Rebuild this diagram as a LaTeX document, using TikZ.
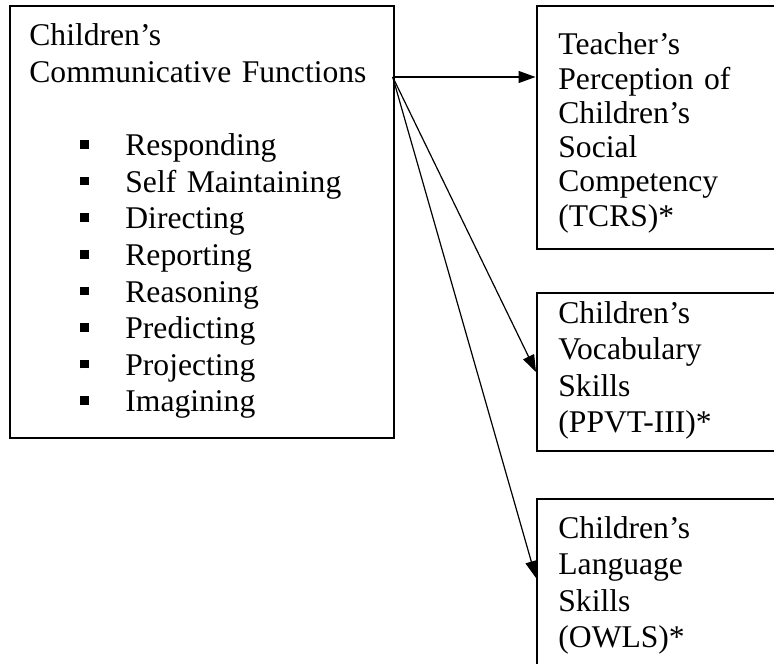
\documentclass[tikz,border=0pt]{standalone}
\usepackage{fontspec}
\setmainfont{Liberation Serif}
\usetikzlibrary{arrows.meta}

\newcommand{\blt}[1]{\hspace*{25.5pt}\rule[3.5pt]{4.3pt}{4.3pt}\hspace*{18.2pt}#1}

\begin{document}
\begin{tikzpicture}[
  x=0.5pt, y=-0.5pt,
  >={Triangle[length=8.5pt,width=6pt]},
  blk/.style={draw, line width=1pt, inner sep=0pt, anchor=north west},
  txt/.style={anchor=base west, inner sep=0pt, align=left, text width=100pt,
    font=\fontsize{15.8}{18.3}\selectfont},
  lnk/.style={->, line width=0.6pt},
]

\useasboundingbox (0,0) rectangle (774,663);
\clip (0,0) rectangle (774,663);

\node [blk, minimum width=191.85pt, minimum height=216pt] (funcs) at (9,5) {};
\node [blk, minimum width=130pt, minimum height=121.5pt] (percep) at (535.5,5) {};
\node [blk, minimum width=130pt, minimum height=79pt] (vocab) at (536,292) {};
\node [blk, minimum width=130pt, minimum height=100pt] (lang) at (536,498) {};

\node [txt, text width=180pt] (funcs-t) at (29,46) {Children's\\
  Communicative Functions\\[18.3pt]
  \blt{Responding}\\ \blt{Self Maintaining}\\ \blt{Directing}\\
  \blt{Reporting}\\ \blt{Reasoning}\\ \blt{Predicting}\\
  \blt{Projecting}\\ \blt{Imagining}};
\node [txt, font=\fontsize{15.8}{17.1}\selectfont] (percep-t) at (558,55)
  {Teacher's\\ Perception of\\ Children's\\ Social\\ Competency\\ (TCRS)*};
\node [txt] (vocab-t) at (558,323) {Children's\\ Vocabulary\\ Skills\\ (PPVT-III)*};
\node [txt] (lang-t) at (558,538) {Children's\\ Language\\ Skills\\ (OWLS)*};

\coordinate (src) at (392.7,77);
\draw [lnk] (src) -- (src -| percep.west);
\draw [lnk] (src) -- (vocab.west);
\draw [lnk] (src) -- ([yshift=-40pt]lang.north west);

\end{tikzpicture}
\end{document}
